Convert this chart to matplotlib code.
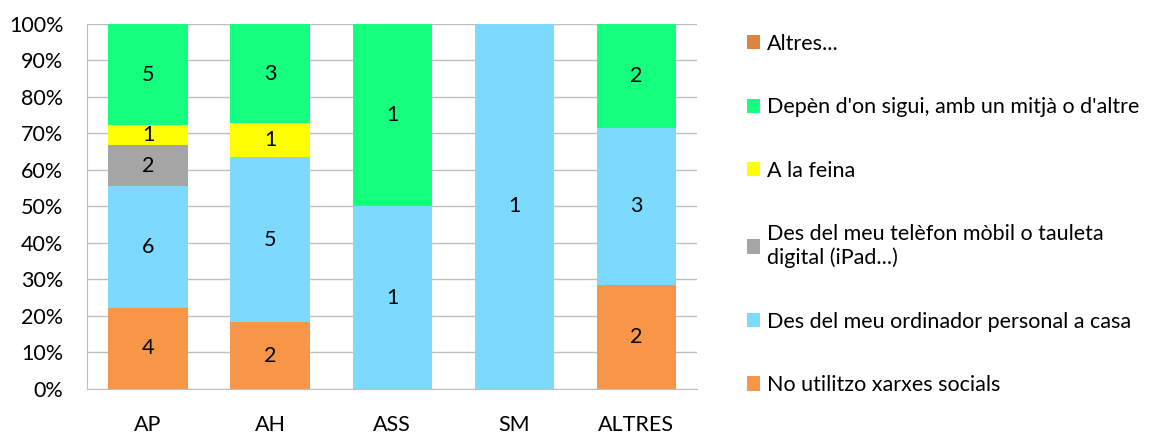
import matplotlib.pyplot as plt
import numpy as np

plt.rcParams['font.family'] = ['Lato', 'DejaVu Sans']

# Data (counts per group, bottom to top of the stack)
groups = ["AP", "AH", "ASS", "SM", "ALTRES"]
no_utilitzo = [4, 2, 0, 0, 2]
ordinador = [6, 5, 1, 1, 3]
mobil = [2, 0, 0, 0, 0]
feina = [1, 1, 0, 0, 0]
depen = [5, 3, 1, 0, 2]
altres = [0, 0, 0, 0, 0]

series = [
    ("No utilitzo xarxes socials", no_utilitzo, '#F79646'),
    ("Des del meu ordinador personal a casa", ordinador, '#7BDAFE'),
    ("Des del meu telèfon mòbil o tauleta\ndigital (iPad...)", mobil, '#A5A5A5'),
    ("A la feina", feina, '#FFFF00'),
    ("Depèn d'on sigui, amb un mitjà o d'altre", depen, '#14FF7E'),
    ("Altres...", altres, '#DB8540'),
]

FS = 15.5

counts = np.array([s[1] for s in series], dtype=float)
totals = counts.sum(axis=0)
pct = counts / totals * 100

fig = plt.figure(figsize=(11.56, 4.33), dpi=100)
ax = fig.add_axes([0.0753, 0.102, 0.528, 0.843])

x = np.arange(len(groups))
width = 0.65
bottom = np.zeros(len(groups))
handles = []
for (label, vals, color), p, c in zip(series, pct, counts):
    bars = ax.bar(x, p, width, bottom=bottom, color=color, label=label, zorder=2)
    handles.append(bars)
    for xi, b, h, n in zip(x, bottom, p, c):
        if n > 0:
            ax.text(xi, b + h / 2, f"{int(n)}", ha='center', va='center', fontsize=FS, zorder=3)
    bottom += p

ax.set_xlim(-0.5, len(groups) - 0.5)
ax.set_ylim(0, 100)
ax.set_yticks(np.arange(0, 101, 10))
ax.set_yticklabels([f"{v}%" for v in range(0, 101, 10)])
ax.set_xticks(x)
ax.set_xticklabels(groups)
ax.tick_params(axis='both', length=0, labelsize=FS)
ax.tick_params(axis='x', pad=19)
ax.tick_params(axis='y', pad=17)
ax.yaxis.grid(True, color='#BFBFBF', linewidth=1, zorder=0)
for side in ['top', 'right']:
    ax.spines[side].set_visible(False)
for side in ['left', 'bottom']:
    ax.spines[side].set_color('#BFBFBF')

fig.legend(handles[::-1], [s[0] for s in series][::-1], loc='upper left',
           bbox_to_anchor=(0.633, 0.957), frameon=False, fontsize=FS,
           handlelength=0.63, handleheight=0.63, handletextpad=0.3,
           labelspacing=2.02, borderpad=0.2)

plt.savefig("out.png", dpi=100)
